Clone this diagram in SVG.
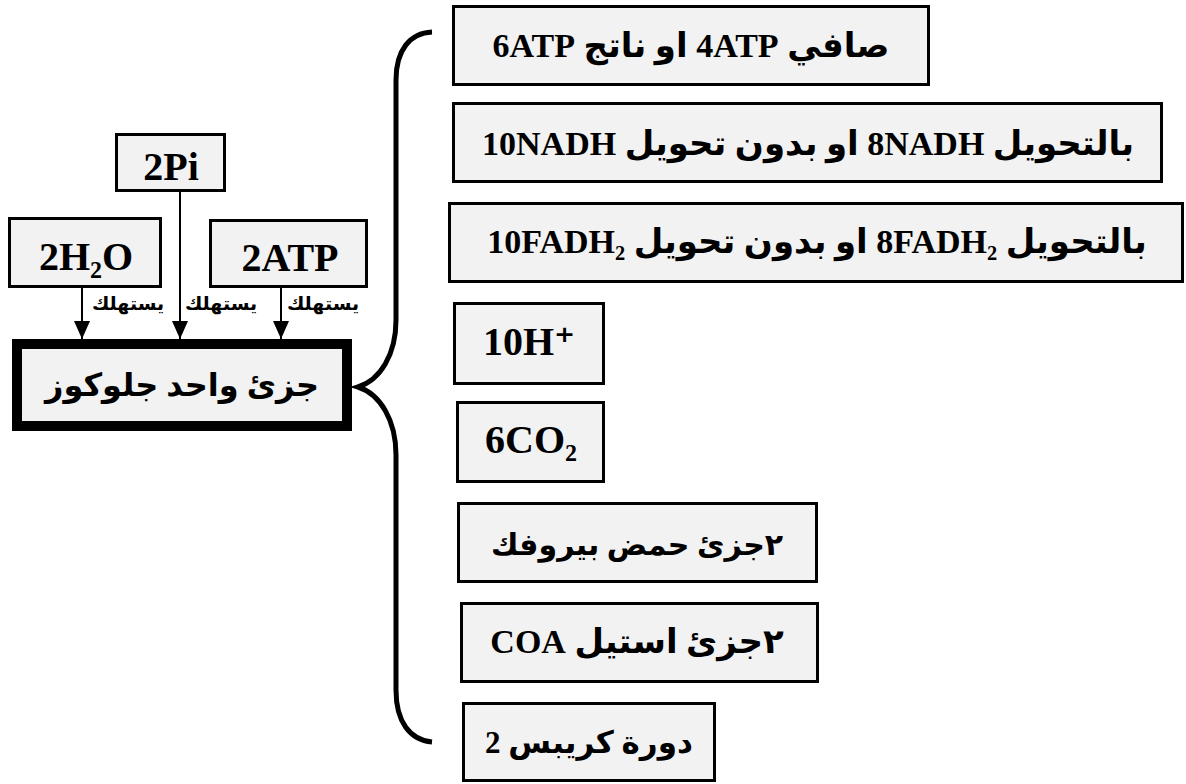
<svg xmlns="http://www.w3.org/2000/svg" width="1186" height="784" viewBox="0 0 1186 784">
<style>
.box{fill:#f2f2f2;stroke:#000;stroke-width:3}
.thick{fill:#f2f2f2;stroke:#000;stroke-width:10}
.t{font-family:"Liberation Serif","DejaVu Sans",serif;font-weight:bold;fill:#000;text-anchor:middle}
.big{font-size:34px}
.lg{font-size:40px}
.ar{font-size:32px}
.sm{font-family:"Liberation Sans","DejaVu Sans",sans-serif;font-weight:bold;font-size:19px;fill:#000;text-anchor:middle}
.ln{stroke:#000;stroke-width:2;fill:none}
.brace{stroke:#000;stroke-width:5;fill:none}
</style>
<defs>
<marker id="ah" markerUnits="userSpaceOnUse" markerWidth="16" markerHeight="18" viewBox="0 0 16 18" refX="8" refY="18" orient="0">
<path d="M0,0 L16,0 L8,18 Z" fill="#000"/>
</marker>
</defs>
<g id="connectors">
<line class="ln" x1="82" y1="288" x2="82" y2="339" marker-end="url(#ah)"/>
<line class="ln" x1="180" y1="192" x2="180" y2="339" marker-end="url(#ah)"/>
<line class="ln" x1="281" y1="288" x2="281" y2="339" marker-end="url(#ah)"/>
<path class="brace" d="M432,32 C410,33 396,50 396,80 L396,320 C396,355 380,380 358,387 C380,394 396,420 396,455 L396,690 C396,722 410,740 432,742"/>
<text class="sm" x="128" y="310" direction="rtl">يستهلك</text>
<text class="sm" x="221" y="310" direction="rtl">يستهلك</text>
<text class="sm" x="323" y="310" direction="rtl">يستهلك</text>
</g>
<g id="n-2pi">
<rect class="box" x="116.5" y="134.5" width="108" height="56"/>
<text class="t lg" x="171" y="180">2Pi</text>
</g>
<g id="n-2h2o">
<rect class="box" x="9.5" y="218.5" width="151" height="68"/>
<text class="t lg" x="86" y="270">2H₂O</text>
</g>
<g id="n-2atp">
<rect class="box" x="210.5" y="220.5" width="156" height="66"/>
<text class="t lg" x="290" y="271">2ATP</text>
</g>
<g id="n-glucose">
<rect class="thick" x="17" y="344" width="330" height="82"/>
<text class="t ar" x="182" y="396" direction="rtl">جزئ واحد جلوكوز</text>
</g>
<g id="n-atp">
<rect class="box" x="453.5" y="6.5" width="475" height="78"/>
<text class="t big" x="691" y="57" direction="rtl">صافي 4ATP او ناتج 6ATP</text>
</g>
<g id="n-nadh">
<rect class="box" x="453.5" y="103.5" width="708" height="78"/>
<text class="t big" x="808" y="155" direction="rtl">بالتحويل 8NADH او بدون تحويل 10NADH</text>
</g>
<g id="n-fadh">
<rect class="box" x="449.5" y="203.5" width="733" height="78"/>
<text class="t big" x="817" y="253" direction="rtl">بالتحويل 8FADH₂ او بدون تحويل 10FADH₂</text>
</g>
<g id="n-h">
<rect class="box" x="454.5" y="303.5" width="149" height="80"/>
<text class="t lg" x="529" y="355">10H⁺</text>
</g>
<g id="n-co2">
<rect class="box" x="457.5" y="402.5" width="146" height="79"/>
<text class="t lg" x="531" y="453">6CO₂</text>
</g>
<g id="n-pyruvate">
<rect class="box" x="458.5" y="503.5" width="358" height="78"/>
<text class="t" style="font-size:30px" x="637" y="555" direction="rtl">٢جزئ حمض بيروفك</text>
</g>
<g id="n-coa">
<rect class="box" x="461.5" y="603.5" width="356" height="78"/>
<text class="t big" x="637" y="653" direction="rtl">٢جزئ استيل COA</text>
</g>
<g id="n-krebs">
<rect class="box" x="463.5" y="703.5" width="251" height="77"/>
<text class="t" style="font-size:31px" x="589" y="753" direction="rtl">دورة كريبس 2</text>
</g>
</svg>
